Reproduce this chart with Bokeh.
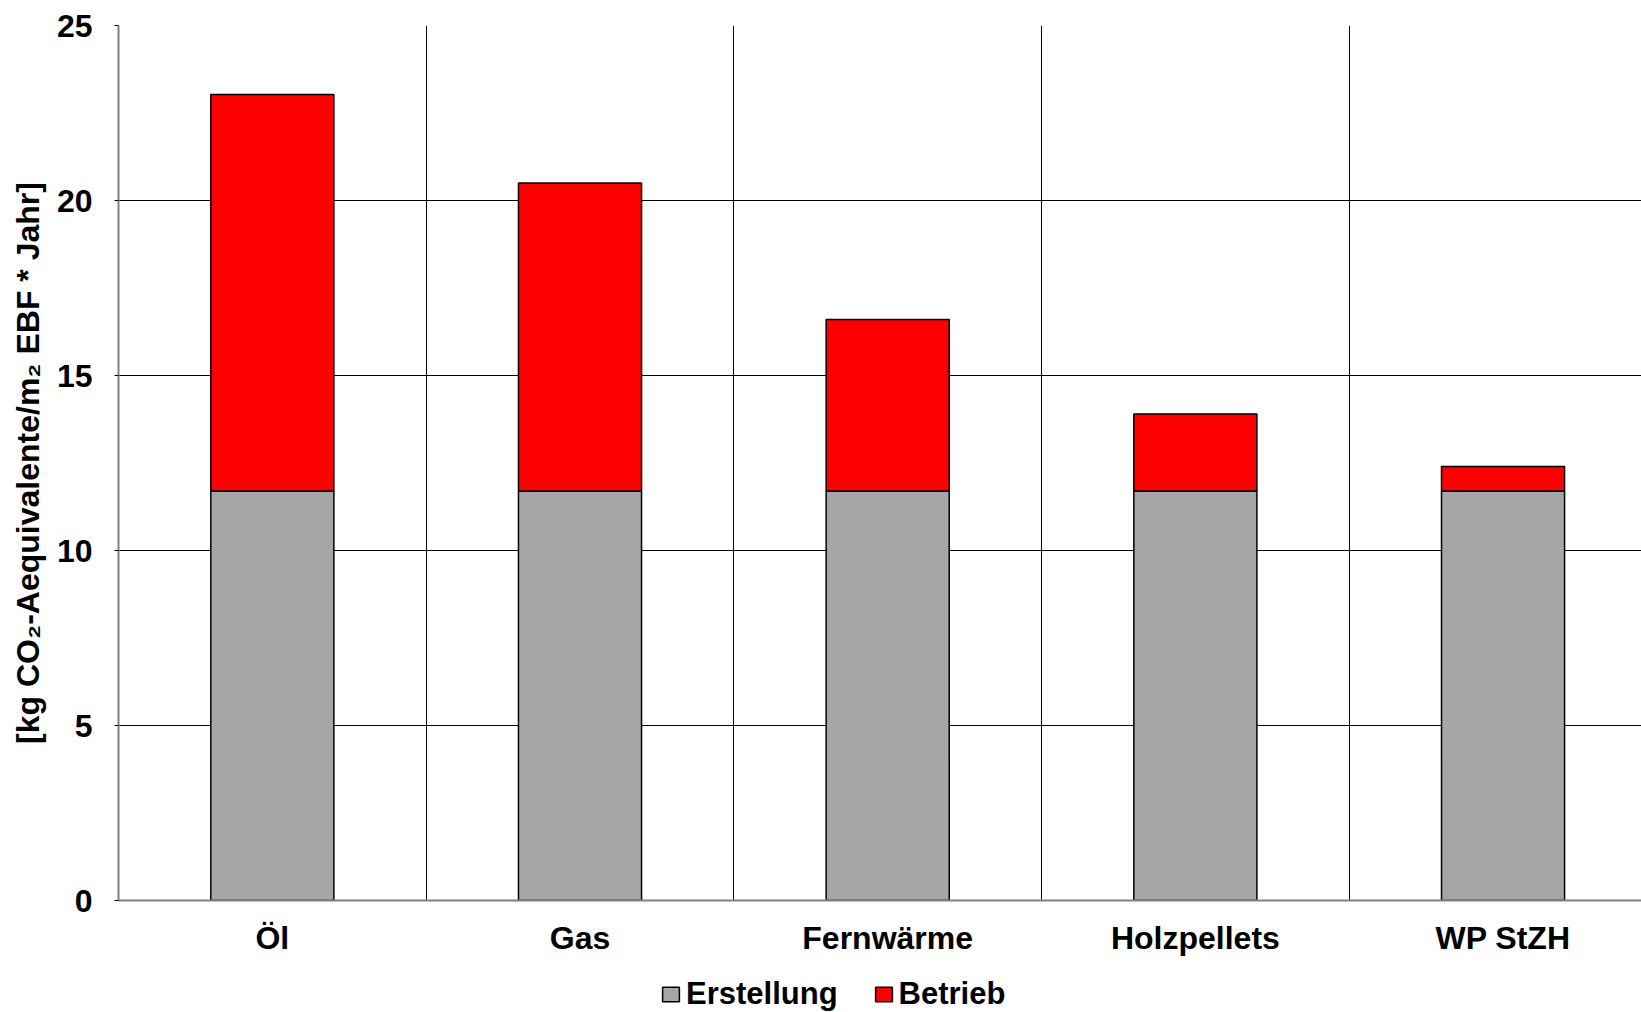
from bokeh.plotting import figure
from bokeh.layouts import column
from bokeh.models import ColumnDataSource, Range1d, FixedTicker, Legend, LegendItem
from bokeh.embed import file_html
from bokeh.resources import INLINE

categories = ["Öl", "Gas", "Fernwärme", "Holzpellets", "WP StZH"]
erstellung = [11.7, 11.7, 11.7, 11.7, 11.7]
betrieb = [11.33, 8.8, 4.9, 2.2, 0.7]
series = ["Erstellung", "Betrieb"]
colors = ["#A6A6A6", "#FF0000"]
y_ticks = [0, 5, 10, 15, 20, 25]
y_label = "[kg CO\u2082-Aequivalente/m\u2082 EBF * Jahr]"

positions = [i + 1 for i in range(len(categories))]
source = ColumnDataSource(dict(x=positions, Erstellung=erstellung, Betrieb=betrieb))

FONT = "Liberation Sans"

p = figure(width=1641, height=963, output_backend="svg", toolbar_location=None,
           x_range=Range1d(0.5, 5.45), y_range=Range1d(0, 25),
           min_border_left=118, min_border_right=0, min_border_top=25, min_border_bottom=63)
p.outline_line_color = None
p.background_fill_color = "white"

rs = p.vbar_stack(series, x="x", width=0.4, source=source, color=colors,
                  line_color="black", line_width=1.5)

# grids
p.xgrid.ticker = FixedTicker(ticks=[1.5, 2.5, 3.5, 4.5])
p.xgrid.grid_line_color = "black"
p.xgrid.grid_line_width = 1
p.ygrid.ticker = FixedTicker(ticks=y_ticks)
p.ygrid.grid_line_color = "black"
p.ygrid.grid_line_width = 1

# x axis
p.xaxis.ticker = FixedTicker(ticks=positions)
p.xaxis.major_label_overrides = {pos: c for pos, c in zip(positions, categories)}
p.xaxis.major_tick_line_color = None
p.xaxis.minor_tick_line_color = None
p.xaxis.axis_line_color = "#808080"
p.xaxis.axis_line_width = 2
p.xaxis.major_label_text_font = FONT
p.xaxis.major_label_text_font_style = "bold"
p.xaxis.major_label_text_font_size = "32px"
p.xaxis.major_label_text_color = "black"
p.xaxis.major_label_standoff = 13

# y axis
p.yaxis.ticker = FixedTicker(ticks=y_ticks)
p.yaxis.minor_tick_line_color = None
p.yaxis.major_tick_line_color = "black"
p.yaxis.major_tick_out = 4
p.yaxis.major_tick_in = 0
p.yaxis.axis_line_color = "#808080"
p.yaxis.axis_line_width = 2
p.yaxis.major_label_text_font = FONT
p.yaxis.major_label_text_font_style = "bold"
p.yaxis.major_label_text_font_size = "32px"
p.yaxis.major_label_text_color = "black"
p.yaxis.major_label_standoff = 22
p.yaxis.axis_label = y_label
p.yaxis.axis_label_text_font = FONT
p.yaxis.axis_label_text_font_style = "bold"
p.yaxis.axis_label_text_font_size = "32px"
p.yaxis.axis_label_text_color = "black"
p.yaxis.axis_label_standoff = 8

# legend strip below the chart (its bars lie outside its own visible range)
lg = figure(width=1641, height=49, output_backend="svg", toolbar_location=None,
            x_range=Range1d(-101, -100), y_range=Range1d(100, 101),
            x_axis_type=None, y_axis_type=None,
            min_border_left=0, min_border_right=0, min_border_top=0, min_border_bottom=0)
lg.outline_line_color = None
lg.xgrid.visible = False
lg.ygrid.visible = False
dummies = [lg.vbar(x="x", top=s, width=0.4, source=source, fill_color=c,
                   line_color="black", line_width=1.5) for s, c in zip(series, colors)]
legend = Legend(items=[LegendItem(label=s, renderers=[r]) for s, r in zip(series, dummies)],
                orientation="horizontal", location=(542, 0),
                label_text_font=FONT, label_text_font_style="bold",
                label_text_font_size="31px", label_text_color="black",
                glyph_width=21, glyph_height=18, label_standoff=5, spacing=35,
                padding=0, margin=0, border_line_color=None, background_fill_alpha=0)
lg.add_layout(legend)

layout = column(p, lg, spacing=0)
open("out.html", "w").write(file_html(layout, INLINE))
